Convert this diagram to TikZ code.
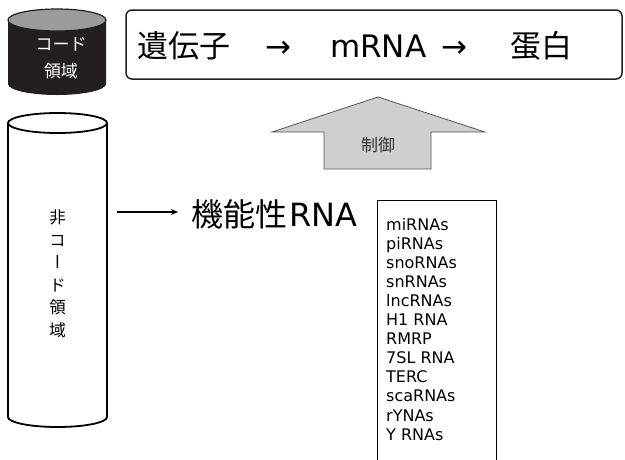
\documentclass[tikz,border=0pt]{standalone}
\usepackage{fontspec}
\setmainfont{DejaVu Sans}
\newfontfamily\jp{Noto Sans CJK JP}
\newfontfamily\jpv[RawFeature=+vert]{Noto Sans CJK JP}
\usetikzlibrary{arrows.meta}
\definecolor{cyldark}{HTML}{231F20}
\definecolor{cyltop}{HTML}{9B9B9B}
\definecolor{boxc}{HTML}{222222}
\definecolor{ctrlfill}{HTML}{CFCFCF}
\definecolor{ctrldraw}{HTML}{555555}
\begin{document}
\begin{tikzpicture}[x=1pt,y=-1pt,
  bigtxt/.style={anchor=base west, inner sep=0, font=\fontsize{31}{31}\selectfont},
  bigjp/.style={anchor=base west, inner sep=0, font=\jp\fontsize{31}{31}\selectfont},
  listtxt/.style={anchor=base west, inner sep=0, font=\fontsize{16}{16}\selectfont},
  conn/.style={line width=1.2, -{Stealth[length=7,width=6]}}]
\useasboundingbox (0,0) rectangle (625,459);
% top (coding) cylinder
\fill[cyldark] (8,20) -- (8,84) arc[start angle=180,end angle=0,x radius=49,y radius=11] -- (106,20) -- cycle;
\filldraw[fill=cyltop, draw=cyldark, line width=1.2] (57,20) ellipse[x radius=49,y radius=11];
\node[align=center, text=white, font=\jp\fontsize{17}{27}\selectfont] (codecyl) at (61,58.5) {コード\\領域};
% tall (non-coding) cylinder
\filldraw[fill=white, draw=black, line width=1.8] (8,123) -- (8,417) arc[start angle=180,end angle=0,x radius=49.5,y radius=10] -- (107,123);
\draw[line width=1.8] (57.5,123) ellipse[x radius=49.5,y radius=10];
\node[align=center, font=\jpv\fontsize{16.5}{22.5}\selectfont] (noncode) at (57.5,274) {非\\コ\\ー\\ド\\領\\域};
% gene box
\node[draw=boxc, line width=1.5, rounded corners=6, minimum width=496, minimum height=69, inner sep=0] (genebox) at (374,44.5) {};
\node[bigjp] (gene) at (137,57.5) {遺伝子};
\node[bigtxt] (arrA) at (265,57.5) {→};
\node[bigtxt] (mrna) at (330,57.5) {mRNA};
\node[bigtxt] (arrB) at (441,57.5) {→};
\node[bigjp] (prot) at (510,57.5) {蛋白};
% control arrow
\filldraw[fill=ctrlfill, draw=ctrldraw, line width=0.8] (378,97) -- (485,132) -- (431,132) -- (431,169) -- (324,169) -- (324,132) -- (272,132) -- cycle;
\node[font=\jp\fontsize{17}{17}\selectfont, text=black!80] (ctrl) at (378,145) {制御};
% functional RNA
\node[bigtxt, font=\fontsize{32}{32}\selectfont] (func) at (191,226) {{\jp 機能性}\kern2pt RNA};
\coordinate (fstart) at (117,212);
\draw[conn, shorten >=13] (fstart) -- (func.west |- fstart);
% list
\node[draw, line width=1.2, anchor=north west, minimum width=119, minimum height=280, inner sep=0] (listbox) at (377,200) {};
\foreach \t [count=\i from 0] in {miRNAs,piRNAs,snoRNAs,snRNAs,lncRNAs,H1 RNA,RMRP,7SL RNA,TERC,scaRNAs,rYNAs,Y RNAs}
  \node[listtxt] (rna\i) at (386,{230+19.1*\i}) {\t};
\end{tikzpicture}
\end{document}
